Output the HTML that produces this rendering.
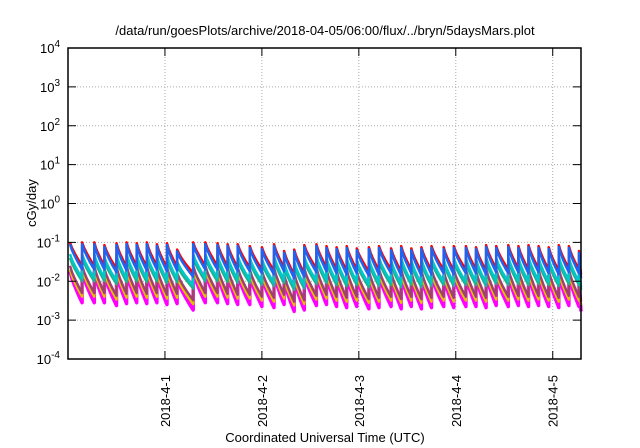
<!DOCTYPE html>
<html><head><meta charset="utf-8"><style>
body{margin:0;background:#fff;}
svg{display:block;font-family:"Liberation Sans",sans-serif;}
</style></head><body>
<svg id="chart" width="640" height="448" viewBox="0 0 640 448">
<text x="325" y="35" font-size="13" text-anchor="middle">/data/run/goesPlots/archive/2018-04-05/06:00/flux/../bryn/5daysMars.plot</text>
<text transform="translate(36,203) rotate(-90)" font-size="13" text-anchor="middle">cGy/day</text>
<text x="325" y="442" font-size="13" text-anchor="middle">Coordinated Universal Time (UTC)</text>
<g id="grid"></g><g id="series"></g><g id="axes"></g>
</svg>
<script>
const yExponents=[-4,-3,-2,-1,0,1,2,3,4];
const xTickLabels=["2018-4-1","2018-4-2","2018-4-3","2018-4-4","2018-4-5"];
const xTickHours=[24,48,72,96,120];
// spike times (hours from 2018-03-31 00:00)
const spikeTimes=[0.5,3.5,6.5,9,12,14.5,17,19.5,22,24.5,27,31,34,37,39.5,42,45,48,51,53.5,56,58.5,61.5,64,66.5,69,71.5,74.5,77,80,82.5,85,87.5,90,93,95.5,98.5,101,103.5,106,109,111.5,114,116.5,119,121.5,124,126.5];
// red-series peak value at each spike (cGy/day)
const peakValues=[0.1,0.1,0.1,0.085,0.095,0.1,0.095,0.1,0.09,0.095,0.065,0.1,0.1,0.095,0.09,0.09,0.08,0.075,0.09,0.06,0.065,0.085,0.09,0.08,0.075,0.08,0.07,0.075,0.08,0.07,0.08,0.07,0.075,0.08,0.075,0.08,0.08,0.075,0.085,0.08,0.085,0.08,0.085,0.08,0.075,0.085,0.08,0.06];
const seriesColors=["#ff0000","#1e64f0","#00c8c8","#20b090","#a04070","#e0c000","#ff00ff"];
const seriesPeakRatio=[1,0.9,0.5,0.4,0.25,0.2,0.18];
const seriesTroughRatio=[0.25,0.2,0.12,0.1,0.05,0.04,0.028];
const L=68,R=581,T=48,B=359,hMax=127;
const xs=h=>L+(h/hMax)*(R-L);
const ys=v=>B-(Math.log10(v)+4)/8*(B-T);
const NS="http://www.w3.org/2000/svg";
function mk(tag,attrs,parent){const e=document.createElementNS(NS,tag);for(const k in attrs)e.setAttribute(k,attrs[k]);parent.appendChild(e);return e;}
const grid=document.getElementById('grid'),axes=document.getElementById('axes'),ser=document.getElementById('series');
yExponents.forEach(p=>{const y=ys(Math.pow(10,p));
 if(p>-4&&p<4){const g=mk('line',{x1:L,x2:R,y1:y,y2:y,stroke:'#aaa','stroke-dasharray':'1,2','stroke-width':1},grid);
 
 }
 const t=mk('line',{x1:L,x2:L+8,y1:y,y2:y,stroke:'#000'},axes);
 
 
 mk('line',{x1:R-8,x2:R,y1:y,y2:y,stroke:'#000'},axes);
 const tx=mk('text',{x:L-8,y:y+5,'font-size':13,'text-anchor':'end'},axes);
 
 
 tx.innerHTML='10<tspan dy="-6" font-size="10">'+p+'</tspan>';
});
xTickHours.forEach((h,i)=>{const x=xs(h);
 const g=mk('line',{x1:x,x2:x,y1:T,y2:B,stroke:'#aaa','stroke-dasharray':'1,2'},grid);
 
 
 mk('line',{x1:x,x2:x,y1:B,y2:B-8,stroke:'#000'},axes);
 mk('line',{x1:x,x2:x,y1:T,y2:T+8,stroke:'#000'},axes);
 const tx=mk('text',{transform:`translate(${x+5},${B+16}) rotate(-90)`,'font-size':13,'text-anchor':'end'},axes);
 
 
 tx.textContent=xTickLabels[i];
});
const order=[6,5,4,3,2,0,1];
order.forEach(s=>{const c=seriesColors[s];
 let d='';
 for(let i=0;i<spikeTimes.length;i++){
  const t0=spikeTimes[i],t1=i+1<spikeTimes.length?spikeTimes[i+1]:hMax;
  const pk=peakValues[i]*seriesPeakRatio[s],tr=peakValues[i]*seriesTroughRatio[s];
  const steps=6;
  for(let k=0;k<=steps;k++){const f=k/steps;const t=t0+(t1-t0)*f;
   const v=Math.exp(Math.log(pk)+(Math.log(tr)-Math.log(pk))*Math.pow(f,0.8));
   d+=(d?'L':'M')+xs(Math.min(t,hMax)).toFixed(1)+','+ys(v).toFixed(1);}
 }
 const p=mk('path',{d:d,fill:'none',stroke:c,'stroke-width':s==6?3.5:2.5,'stroke-linejoin':'round'},ser);
 
 
});
const f=mk('rect',{x:L,y:T,width:R-L,height:B-T,fill:'none',stroke:'#000','stroke-width':1.5},axes);


</script>
</body></html>
